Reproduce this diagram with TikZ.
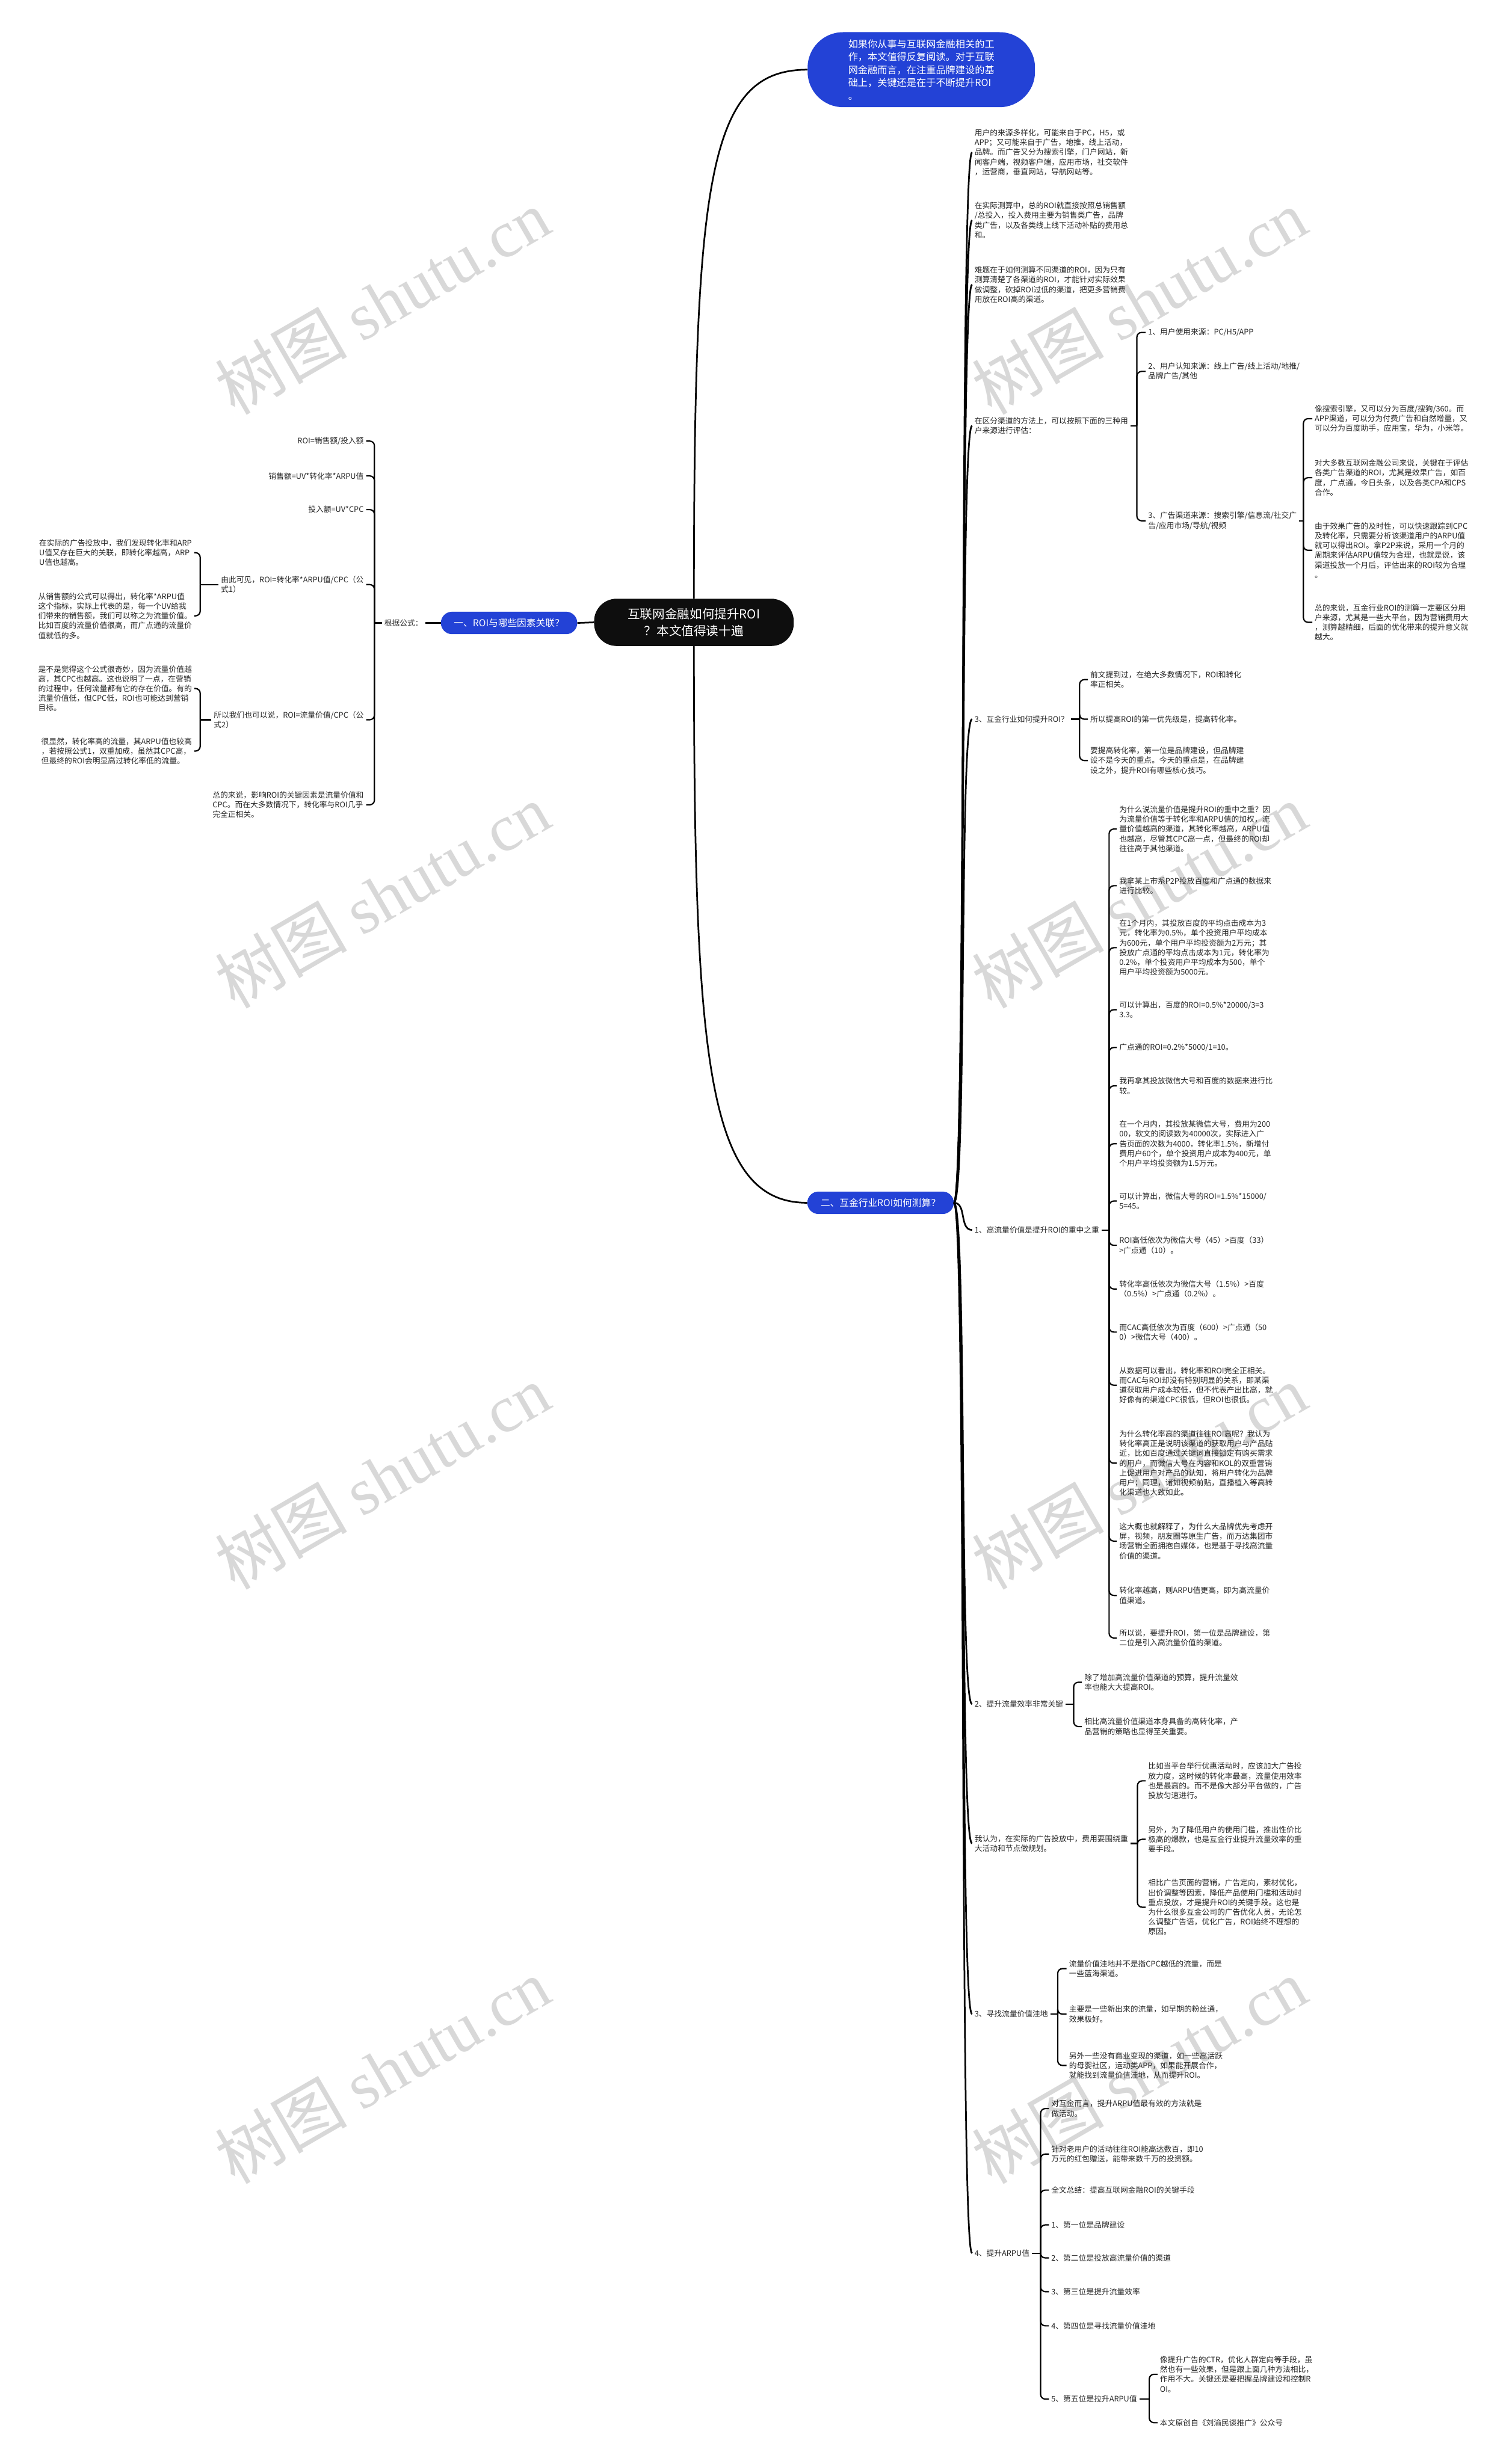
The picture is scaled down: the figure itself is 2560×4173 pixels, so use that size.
\documentclass[tikz,border=0pt]{standalone}
\usepackage{fontspec}
\setmainfont{Noto Sans CJK SC}
\newfontfamily\marklatin{Liberation Serif}
\definecolor{mapblue}{HTML}{2342D6}
\definecolor{rootblack}{HTML}{0E0E0E}
\definecolor{inkgray}{HTML}{262626}
\definecolor{markgray}{HTML}{D8D8D8}

\begin{document}
\begin{tikzpicture}[x=1pt,y=-1pt,
  leaf/.style={font=\fontsize{13}{16.5}\selectfont, align=left, inner xsep=4pt, inner ysep=2pt, text=inkgray},
  pill/.style={fill=mapblue, text=white, rounded corners=19pt, minimum height=38pt, font=\fontsize{16}{20}\selectfont},
  brace/.style={draw=black, line width=2.2pt, rounded corners=8pt},
  trunk/.style={draw=black, line width=2.8pt},
  watermark/.style={text=markgray, font=\fontsize{112}{120}\selectfont, rotate=30}]
\fill[white] (0,0) rectangle (2560,4173);
\useasboundingbox (0,0) rectangle (2560,4173);

\node[watermark] (w1) at (647,511) {树图 {\marklatin shutu.cn}};
\node[watermark] (w2) at (1929,511) {树图 {\marklatin shutu.cn}};
\node[watermark] (w3) at (647,1517) {树图 {\marklatin shutu.cn}};
\node[watermark] (w4) at (1929,1517) {树图 {\marklatin shutu.cn}};
\node[watermark] (w5) at (647,2501) {树图 {\marklatin shutu.cn}};
\node[watermark] (w6) at (1929,2501) {树图 {\marklatin shutu.cn}};
\node[watermark] (w7) at (647,3507) {树图 {\marklatin shutu.cn}};
\node[watermark] (w8) at (1929,3507) {树图 {\marklatin shutu.cn}};

\node[fill=rootblack, text=white, rounded corners=38pt, minimum width=338pt, minimum height=80pt, align=center, font=\fontsize{21}{29}\selectfont] (title) at (1175,1054) {互联网金融如何提升ROI\\？本文值得读十遍};
\node[pill, minimum width=385pt, minimum height=127pt, rounded corners=60pt, align=left, font=\fontsize{16.5}{22}\selectfont] (intro) at (1560,118) {如果你从事与互联网金融相关的工\\作，本文值得反复阅读。对于互联\\网金融而言，在注重品牌建设的基\\础上，关键还是在于不断提升ROI\\。};
\node[pill, minimum width=231pt] (factors) at (862,1055) {一、ROI与哪些因素关联？};
\node[pill, minimum width=248pt] (measure) at (1491,2037) {二、互金行业ROI如何测算？};

\node[leaf, anchor=east] (formula) at (720,1055) {根据公式：};
\node[leaf, anchor=east] (f1) at (620,747) {ROI=销售额/投入额};
\node[leaf, anchor=east] (f2) at (620,806) {销售额=UV*转化率*ARPU值};
\node[leaf, anchor=east] (f3) at (620,863) {投入额=UV*CPC};
\node[leaf, anchor=east] (f4) at (620,990) {由此可见，ROI=转化率*ARPU值/CPC（公\\式1）};
\node[leaf, anchor=east] (f5) at (620,1219) {所以我们也可以说，ROI=流量价值/CPC（公\\式2）};
\node[leaf, anchor=east] (f6) at (620,1363) {总的来说，影响ROI的关键因素是流量价值和\\CPC。而在大多数情况下，转化率与ROI几乎\\完全正相关。};
\node[leaf, anchor=east] (conv1) at (329,936) {在实际的广告投放中，我们发现转化率和ARP\\U值又存在巨大的关联，即转化率越高，ARP\\U值也越高。};
\node[leaf, anchor=east] (conv2) at (329,1043) {从销售额的公式可以得出，转化率*ARPU值\\这个指标，实际上代表的是，每一个UV给我\\们带来的销售额，我们可以称之为流量价值。\\比如百度的流量价值很高，而广点通的流量价\\值就低的多。};
\node[leaf, anchor=east] (flow1) at (329,1166) {是不是觉得这个公式很奇妙，因为流量价值越\\高，其CPC也越高。这也说明了一点，在营销\\的过程中，任何流量都有它的存在价值。有的\\流量价值低，但CPC低，ROI也可能达到营销\\目标。};
\node[leaf, anchor=east] (flow2) at (329,1272) {很显然，转化率高的流量，其ARPU值也较高\\，若按照公式1，双重加成，虽然其CPC高，\\但最终的ROI会明显高过转化率低的流量。};

\node[leaf, anchor=west] (src) at (1646,258) {用户的来源多样化，可能来自于PC，H5，或\\APP；又可能来自于广告，地推，线上活动，\\品牌。而广告又分为搜索引擎，门户网站，新\\闻客户端，视频客户端，应用市场，社交软件\\，运营商，垂直网站，导航网站等。};
\node[leaf, anchor=west] (calc) at (1646,373) {在实际测算中，总的ROI就直接按照总销售额\\/总投入，投入费用主要为销售类广告，品牌\\类广告，以及各类线上线下活动补贴的费用总\\和。};
\node[leaf, anchor=west] (hard) at (1646,482) {难题在于如何测算不同渠道的ROI，因为只有\\测算清楚了各渠道的ROI，才能针对实际效果\\做调整，砍掉ROI过低的渠道，把更多营销费\\用放在ROI高的渠道。};
\node[leaf, anchor=west] (split) at (1646,721) {在区分渠道的方法上，可以按照下面的三种用\\户来源进行评估：};
\node[leaf, anchor=west] (split1) at (1940,563) {1、用户使用来源：PC/H5/APP};
\node[leaf, anchor=west] (split2) at (1940,629) {2、用户认知来源：线上广告/线上活动/地推/\\品牌广告/其他};
\node[leaf, anchor=west] (split3) at (1940,882) {3、广告渠道来源：搜索引擎/信息流/社交广\\告/应用市场/导航/视频};
\node[leaf, anchor=west] (ad1) at (2222,709) {像搜索引擎，又可以分为百度/搜狗/360。而\\APP渠道，可以分为付费广告和自然增量，又\\可以分为百度助手，应用宝，华为，小米等。};
\node[leaf, anchor=west] (ad2) at (2222,809) {对大多数互联网金融公司来说，关键在于评估\\各类广告渠道的ROI，尤其是效果广告，如百\\度，广点通，今日头条，以及各类CPA和CPS\\合作。};
\node[leaf, anchor=west] (ad3) at (2222,932) {由于效果广告的及时性，可以快速跟踪到CPC\\及转化率，只需要分析该渠道用户的ARPU值\\就可以得出ROI。拿P2P来说，采用一个月的\\周期来评估ARPU值较为合理，也就是说，该\\渠道投放一个月后，评估出来的ROI较为合理\\。};
\node[leaf, anchor=west] (ad4) at (2222,1054) {总的来说，互金行业ROI的测算一定要区分用\\户来源，尤其是一些大平台，因为营销费用大\\，测算越精细，后面的优化带来的提升意义就\\越大。};

\node[leaf, anchor=west] (howto) at (1646,1218) {3、互金行业如何提升ROI？};
\node[leaf, anchor=west] (howto1) at (1842,1151) {前文提到过，在绝大多数情况下，ROI和转化\\率正相关。};
\node[leaf, anchor=west] (howto2) at (1842,1218) {所以提高ROI的第一优先级是，提高转化率。};
\node[leaf, anchor=west] (howto3) at (1842,1288) {要提高转化率，第一位是品牌建设，但品牌建\\设不是今天的重点。今天的重点是，在品牌建\\设之外，提升ROI有哪些核心技巧。};

\node[leaf, anchor=west] (value) at (1646,2083) {1、高流量价值是提升ROI的重中之重};
\node[leaf, anchor=west] (value1) at (1891,1404) {为什么说流量价值是提升ROI的重中之重？因\\为流量价值等于转化率和ARPU值的加权，流\\量价值越高的渠道，其转化率越高，ARPU值\\也越高，尽管其CPC高一点，但最终的ROI却\\往往高于其他渠道。};
\node[leaf, anchor=west] (value2) at (1891,1500) {我拿某上市系P2P投放百度和广点通的数据来\\进行比较。};
\node[leaf, anchor=west] (value3) at (1891,1605) {在1个月内，其投放百度的平均点击成本为3\\元，转化率为0.5\%，单个投资用户平均成本\\为600元，单个用户平均投资额为2万元；其\\投放广点通的平均点击成本为1元，转化率为\\0.2\%，单个投资用户平均成本为500，单个\\用户平均投资额为5000元。};
\node[leaf, anchor=west] (value4) at (1891,1710) {可以计算出，百度的ROI=0.5\%*20000/3=3\\3.3。};
\node[leaf, anchor=west] (value5) at (1891,1774) {广点通的ROI=0.2\%*5000/1=10。};
\node[leaf, anchor=west] (value6) at (1891,1839) {我再拿其投放微信大号和百度的数据来进行比\\较。};
\node[leaf, anchor=west] (value7) at (1891,1937) {在一个月内，其投放某微信大号，费用为200\\00，软文的阅读数为40000次，实际进入广\\告页面的次数为4000，转化率1.5\%，新增付\\费用户60个，单个投资用户成本为400元，单\\个用户平均投资额为1.5万元。};
\node[leaf, anchor=west] (value8) at (1891,2034) {可以计算出，微信大号的ROI=1.5\%*15000/\\5=45。};
\node[leaf, anchor=west] (value9) at (1891,2109) {ROI高低依次为微信大号（45）>百度（33）\\>广点通（10）。};
\node[leaf, anchor=west] (value10) at (1891,2183) {转化率高低依次为微信大号（1.5\%）>百度\\（0.5\%）>广点通（0.2\%）。};
\node[leaf, anchor=west] (value11) at (1891,2256) {而CAC高低依次为百度（600）>广点通（50\\0）>微信大号（400）。};
\node[leaf, anchor=west] (value12) at (1891,2346) {从数据可以看出，转化率和ROI完全正相关。\\而CAC与ROI却没有特别明显的关系，即某渠\\道获取用户成本较低，但不代表产出比高，就\\好像有的渠道CPC很低，但ROI也很低。};
\node[leaf, anchor=west] (value13) at (1891,2478) {为什么转化率高的渠道往往ROI高呢？我认为\\转化率高正是说明该渠道的获取用户与产品贴\\近，比如百度通过关键词直接锁定有购买需求\\的用户，而微信大号在内容和KOL的双重营销\\上促进用户对产品的认知，将用户转化为品牌\\用户；同理，诸如视频前贴，直播植入等高转\\化渠道也大致如此。};
\node[leaf, anchor=west] (value14) at (1891,2610) {这大概也就解释了，为什么大品牌优先考虑开\\屏，视频，朋友圈等原生广告，而万达集团市\\场营销全面拥抱自媒体，也是基于寻找高流量\\价值的渠道。};
\node[leaf, anchor=west] (value15) at (1891,2702) {转化率越高，则ARPU值更高，即为高流量价\\值渠道。};
\node[leaf, anchor=west] (value16) at (1891,2774) {所以说，要提升ROI，第一位是品牌建设，第\\二位是引入高流量价值的渠道。};

\node[leaf, anchor=west] (effic) at (1646,2886) {2、提升流量效率非常关键};
\node[leaf, anchor=west] (effic1) at (1832,2849) {除了增加高流量价值渠道的预算，提升流量效\\率也能大大提高ROI。};
\node[leaf, anchor=west] (effic2) at (1832,2924) {相比高流量价值渠道本身具备的高转化率，产\\品营销的策略也显得至关重要。};

\node[leaf, anchor=west] (plan) at (1646,3122) {我认为，在实际的广告投放中，费用要围绕重\\大活动和节点做规划。};
\node[leaf, anchor=west] (plan1) at (1940,3016) {比如当平台举行优惠活动时，应该加大广告投\\放力度，这时候的转化率最高，流量使用效率\\也是最高的。而不是像大部分平台做的，广告\\投放匀速进行。};
\node[leaf, anchor=west] (plan2) at (1940,3115) {另外，为了降低用户的使用门槛，推出性价比\\极高的爆款，也是互金行业提升流量效率的重\\要手段。};
\node[leaf, anchor=west] (plan3) at (1940,3230) {相比广告页面的营销，广告定向，素材优化，\\出价调整等因素，降低产品使用门槛和活动时\\重点投放，才是提升ROI的关键手段。这也是\\为什么很多互金公司的广告优化人员，无论怎\\么调整广告语，优化广告，ROI始终不理想的\\原因。};

\node[leaf, anchor=west] (niche) at (1646,3411) {3、寻找流量价值洼地};
\node[leaf, anchor=west] (niche1) at (1806,3334) {流量价值洼地并不是指CPC越低的流量，而是\\一些蓝海渠道。};
\node[leaf, anchor=west] (niche2) at (1806,3411) {主要是一些新出来的流量，如早期的粉丝通，\\效果极好。};
\node[leaf, anchor=west] (niche3) at (1806,3498) {另外一些没有商业变现的渠道，如一些高活跃\\的母婴社区，运动类APP，如果能开展合作，\\就能找到流量价值洼地，从而提升ROI。};

\node[leaf, anchor=west] (arpu) at (1646,3816) {4、提升ARPU值};
\node[leaf, anchor=west] (arpu1) at (1776,3571) {对互金而言，提升ARPU值最有效的方法就是\\做活动。};
\node[leaf, anchor=west] (arpu2) at (1776,3648) {针对老用户的活动往往ROI能高达数百，即10\\万元的红包赠送，能带来数千万的投资额。};
\node[leaf, anchor=west] (arpu3) at (1776,3709) {全文总结：提高互联网金融ROI的关键手段};
\node[leaf, anchor=west] (arpu4) at (1776,3768) {1、第一位是品牌建设};
\node[leaf, anchor=west] (arpu5) at (1776,3824) {2、第二位是投放高流量价值的渠道};
\node[leaf, anchor=west] (arpu6) at (1776,3881) {3、第三位是提升流量效率};
\node[leaf, anchor=west] (arpu7) at (1776,3939) {4、第四位是寻找流量价值洼地};
\node[leaf, anchor=west] (arpu8) at (1776,4063) {5、第五位是拉升ARPU值};
\node[leaf, anchor=west] (last1) at (1960,4021) {像提升广告的CTR，优化人群定向等手段，虽\\然也有一些效果，但是跟上面几种方法相比，\\作用不大。关键还是要把握品牌建设和控制R\\OI。};
\node[leaf, anchor=west] (last2) at (1960,4103) {本文原创自《刘渝民谈推广》公众号};

\draw[trunk] (title.north) .. controls +(0,-714) and +(-168,0) .. (intro.west);
\draw[trunk] (title.south) .. controls +(0,700) and +(-170,0) .. (measure.west);
\draw[trunk] (title.west) -- (factors.east);
\draw[brace] (factors.west) -- (formula.east);

\coordinate (formulaS) at (634,1055);
\draw[brace] (formula.west) -- (formulaS);
\draw[brace] (formulaS) |- (f1.east);
\draw[brace] (formulaS) |- (f2.east);
\draw[brace] (formulaS) |- (f3.east);
\draw[brace] (formulaS) |- (f4.east);
\draw[brace] (formulaS) |- (f5.east);
\draw[brace] (formulaS) |- (f6.east);
\coordinate (f4S) at (339,990);
\draw[brace] (f4.west) -- (f4S);
\draw[brace] (f4S) |- (conv1.east);
\draw[brace] (f4S) |- (conv2.east);
\coordinate (f5S) at (339,1219);
\draw[brace] (f5.west) -- (f5S);
\draw[brace] (f5S) |- (flow1.east);
\draw[brace] (f5S) |- (flow2.east);

\draw[trunk] (measure.east) .. controls +(22,0) and +(-22,0) .. (src.west);
\draw[trunk] (measure.east) .. controls +(22,0) and +(-22,0) .. (calc.west);
\draw[trunk] (measure.east) .. controls +(22,0) and +(-22,0) .. (hard.west);
\draw[trunk] (measure.east) .. controls +(22,0) and +(-22,0) .. (split.west);
\draw[trunk] (measure.east) .. controls +(22,0) and +(-22,0) .. (howto.west);
\draw[trunk] (measure.east) .. controls +(22,0) and +(-22,0) .. (value.west);
\draw[trunk] (measure.east) .. controls +(22,0) and +(-22,0) .. (effic.west);
\draw[trunk] (measure.east) .. controls +(22,0) and +(-22,0) .. (plan.west);
\draw[trunk] (measure.east) .. controls +(22,0) and +(-22,0) .. (niche.west);
\draw[trunk] (measure.east) .. controls +(22,0) and +(-22,0) .. (arpu.west);

\coordinate (splitS) at (1925,721);
\draw[brace] (split.east) -- (splitS);
\draw[brace] (splitS) |- (split1.west);
\draw[brace] (splitS) |- (split2.west);
\draw[brace] (splitS) |- (split3.west);
\coordinate (adS) at (2207,882);
\draw[brace] (split3.east) -- (adS);
\draw[brace] (adS) |- (ad1.west);
\draw[brace] (adS) |- (ad2.west);
\draw[brace] (adS) |- (ad3.west);
\draw[brace] (adS) |- (ad4.west);

\coordinate (howtoS) at (1828,1218);
\draw[brace] (howto.east) -- (howtoS);
\draw[brace] (howtoS) |- (howto1.west);
\draw[brace] (howtoS) |- (howto2.west);
\draw[brace] (howtoS) |- (howto3.west);

\coordinate (valueS) at (1878,2083);
\draw[brace] (value.east) -- (valueS);
\draw[brace] (valueS) |- (value1.west);
\draw[brace] (valueS) |- (value2.west);
\draw[brace] (valueS) |- (value3.west);
\draw[brace] (valueS) |- (value4.west);
\draw[brace] (valueS) |- (value5.west);
\draw[brace] (valueS) |- (value6.west);
\draw[brace] (valueS) |- (value7.west);
\draw[brace] (valueS) |- (value8.west);
\draw[brace] (valueS) |- (value9.west);
\draw[brace] (valueS) |- (value10.west);
\draw[brace] (valueS) |- (value11.west);
\draw[brace] (valueS) |- (value12.west);
\draw[brace] (valueS) |- (value13.west);
\draw[brace] (valueS) |- (value14.west);
\draw[brace] (valueS) |- (value15.west);
\draw[brace] (valueS) |- (value16.west);

\coordinate (efficS) at (1818,2886);
\draw[brace] (effic.east) -- (efficS);
\draw[brace] (efficS) |- (effic1.west);
\draw[brace] (efficS) |- (effic2.west);

\coordinate (planS) at (1926,3122);
\draw[brace] (plan.east) -- (planS);
\draw[brace] (planS) |- (plan1.west);
\draw[brace] (planS) |- (plan2.west);
\draw[brace] (planS) |- (plan3.west);

\coordinate (nicheS) at (1791,3411);
\draw[brace] (niche.east) -- (nicheS);
\draw[brace] (nicheS) |- (niche1.west);
\draw[brace] (nicheS) |- (niche2.west);
\draw[brace] (nicheS) |- (niche3.west);

\coordinate (arpuS) at (1762,3816);
\draw[brace] (arpu.east) -- (arpuS);
\draw[brace] (arpuS) |- (arpu1.west);
\draw[brace] (arpuS) |- (arpu2.west);
\draw[brace] (arpuS) |- (arpu3.west);
\draw[brace] (arpuS) |- (arpu4.west);
\draw[brace] (arpuS) |- (arpu5.west);
\draw[brace] (arpuS) |- (arpu6.west);
\draw[brace] (arpuS) |- (arpu7.west);
\draw[brace] (arpuS) |- (arpu8.west);
\coordinate (lastS) at (1946,4063);
\draw[brace] (arpu8.east) -- (lastS);
\draw[brace] (lastS) |- (last1.west);
\draw[brace] (lastS) |- (last2.west);
\end{tikzpicture}
\end{document}
